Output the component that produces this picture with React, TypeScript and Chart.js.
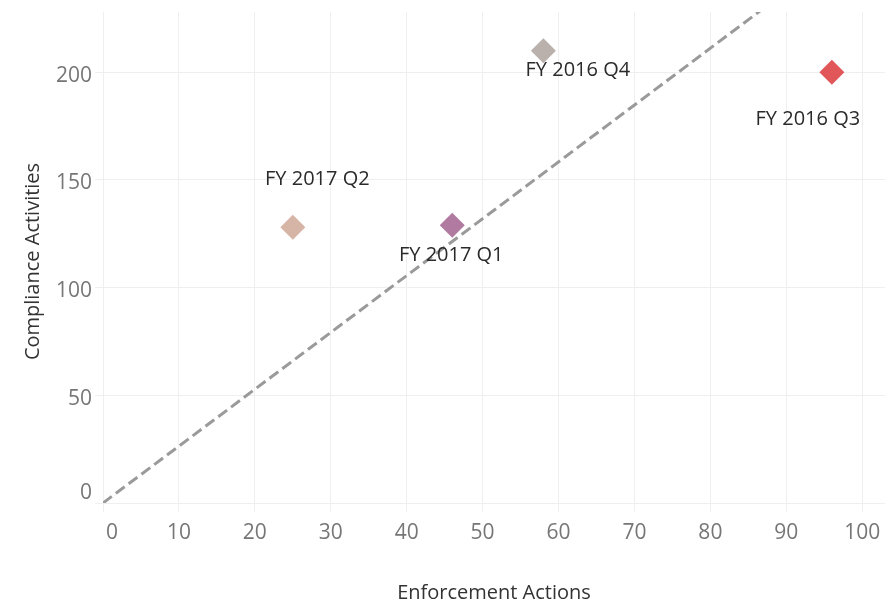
import React, { useEffect, useRef } from 'react';
import { Chart, registerables } from 'chart.js';

Chart.register(...registerables);

// ---- data ----
const quarters = ['FY 2016 Q3', 'FY 2016 Q4', 'FY 2017 Q1', 'FY 2017 Q2'];
const enforcementActions = [96, 58, 46, 25];
const complianceActivities = [200, 210, 129, 128];
const referenceLineX = [0, 100];
const referenceLineY = [0, 264];
const xTitle = 'Enforcement Actions';
const yTitle = 'Compliance Activities';

// ---- styles ----
const pointColors = ['#e15759', '#bab0ac', '#b07aa1', '#d7b5a6'];
const labelOffsets: [number, number][] = [
  [-24, 53],
  [34.5, 25],
  [-1, 36],
  [24.5, -42],
];
const FONT = '"Open Sans", "Noto Sans", sans-serif';

const textPlugin = {
  id: 'textPlugin',
  afterDatasetsDraw(chart: any) {
    const ctx = chart.ctx;
    const meta = chart.getDatasetMeta(1);
    ctx.save();
    ctx.font = `20px ${FONT}`;
    ctx.fillStyle = '#2a2a2a';
    ctx.textAlign = 'center';
    ctx.textBaseline = 'alphabetic';
    meta.data.forEach((el: any, i: number) => {
      const [dx, dy] = labelOffsets[i];
      ctx.fillText(quarters[i], el.x + dx, el.y + dy);
    });
    ctx.restore();
  },
  afterDraw(chart: any) {
    const ctx = chart.ctx;
    const xs = chart.scales.x;
    const ys = chart.scales.y;
    const area = chart.chartArea;
    ctx.save();
    ctx.font = `21px ${FONT}`;
    ctx.fillStyle = '#767676';
    ctx.textBaseline = 'alphabetic';
    ctx.textAlign = 'center';
    xs.ticks.forEach((t: any, i: number) => {
      const px = xs.getPixelForValue(t.value) + (i === 0 ? 9 : 0);
      ctx.fillText(String(t.value), px, area.bottom + 36);
    });
    ctx.textAlign = 'right';
    ys.ticks.forEach((t: any, i: number) => {
      const py = ys.getPixelForValue(t.value) + (i === 0 ? -4 : 9.5);
      ctx.fillText(String(t.value), area.left - 11, py);
    });
    ctx.font = `20px ${FONT}`;
    ctx.fillStyle = '#333333';
    ctx.textAlign = 'center';
    ctx.fillText(xTitle, (area.left + area.right) / 2, 599);
    ctx.translate(39, (area.top + area.bottom) / 2 + 4);
    ctx.rotate(-Math.PI / 2);
    ctx.fillText(yTitle, 0, 0);
    ctx.restore();
  },
};

export default function App() {
  const ref = useRef<HTMLCanvasElement>(null);
  useEffect(() => {
    document.body.style.margin = '0';
    const canvas = ref.current!;
    const chart = new Chart(canvas, {
      type: 'scatter',
      data: {
        datasets: [
          {
            type: 'line',
            data: referenceLineX.map((x, i) => ({ x, y: referenceLineY[i] })),
            borderColor: '#9a9a9a',
            borderWidth: 3,
            borderDash: [11, 5],
            pointRadius: 0,
            fill: false,
          } as any,
          {
            data: enforcementActions.map((x, i) => ({ x, y: complianceActivities[i] })),
            pointStyle: 'rectRot',
            pointRadius: 12.5,
            pointHoverRadius: 12.5,
            backgroundColor: pointColors,
            borderWidth: 0,
          },
        ],
      },
      options: {
        responsive: false,
        animation: false,
        layout: { autoPadding: false, padding: { top: 12, right: 4, left: 0, bottom: 0 } },
        plugins: { legend: { display: false }, tooltip: { enabled: false } },
        events: [],
        scales: {
          x: {
            type: 'linear',
            min: 0,
            max: 103,
            ticks: { stepSize: 10, display: false, includeBounds: false },
            grid: { color: '#efefef', lineWidth: 1, tickLength: 9, drawTicks: true },
            border: { display: false },
            afterFit: (s: any) => {
              s.height = 101;
              s.paddingLeft = 0;
              s.paddingRight = 0;
            },
          },
          y: {
            type: 'linear',
            min: 0,
            max: 228,
            ticks: { stepSize: 50, display: false, includeBounds: false },
            grid: { color: '#efefef', lineWidth: 1, tickLength: 8, drawTicks: true },
            border: { display: false },
            afterFit: (s: any) => {
              s.width = 103;
              s.paddingTop = 0;
              s.paddingBottom = 0;
            },
          },
        },
      },
      plugins: [textPlugin],
    });
    return () => chart.destroy();
  }, []);
  return (
    <canvas ref={ref} width={889} height={604} style={{ display: 'block' }} />
  );
}
